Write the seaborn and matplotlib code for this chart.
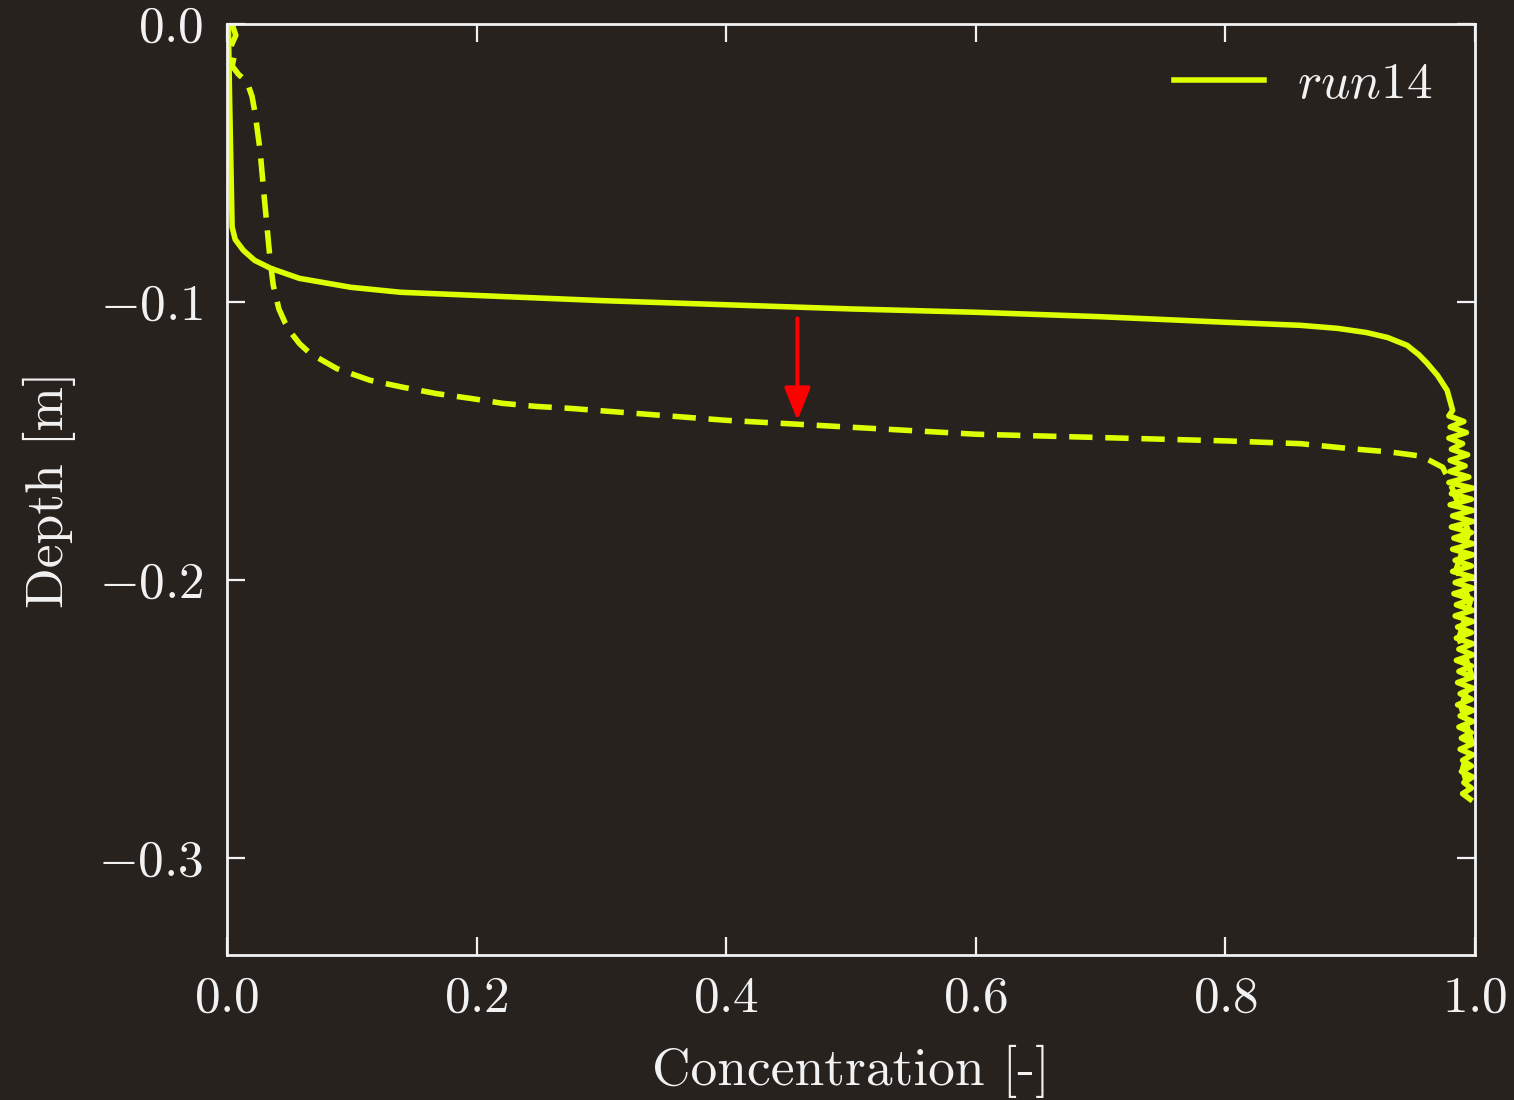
import matplotlib
matplotlib.use("Agg")
import matplotlib.pyplot as plt
import seaborn as sns
import pandas as pd

# ---- data ----
conc_solid = [0.001, 0.002, 0.003, 0.004, 0.0065, 0.013, 0.022, 0.035, 0.058, 0.099,
              0.139, 0.219, 0.30, 0.40, 0.50, 0.60, 0.70, 0.80, 0.86, 0.89,
              0.913, 0.930, 0.9455, 0.955, 0.9615, 0.970, 0.9776, 0.982,
              0.979, 0.991, 0.980, 0.993, 0.979, 0.990, 0.981, 0.994, 0.980, 0.992,
              0.980, 0.995, 0.979, 0.998, 0.981, 0.997, 0.980, 0.998, 0.982, 0.998,
              0.981, 0.997, 0.983, 0.998, 0.982, 0.998, 0.984, 0.997, 0.982, 0.998,
              0.984, 0.998, 0.983, 0.997, 0.985, 0.998, 0.984, 0.998, 0.986, 0.997,
              0.985, 0.998, 0.987, 0.998, 0.985, 0.997, 0.987, 0.998, 0.986, 0.998,
              0.988, 0.997, 0.986, 0.998, 0.988, 0.998, 0.987, 0.997, 0.989, 0.998,
              0.988, 0.998, 0.990, 0.997, 0.989, 0.998, 0.991, 0.997, 0.990, 0.996]
depth_solid = [0.0, -0.027, -0.05, -0.073, -0.0775, -0.0814, -0.085, -0.0879, -0.0915, -0.0947,
               -0.0965, -0.098, -0.0995, -0.101, -0.1025, -0.1037, -0.1053, -0.1073, -0.1084, -0.1095,
               -0.111, -0.1128, -0.1156, -0.119, -0.122, -0.1265, -0.1318, -0.139,
               -0.141, -0.143, -0.145, -0.147, -0.149, -0.151, -0.153, -0.155, -0.157, -0.159,
               -0.161, -0.163, -0.165, -0.167, -0.169, -0.171, -0.173, -0.175, -0.177, -0.179,
               -0.181, -0.183, -0.185, -0.187, -0.189, -0.191, -0.193, -0.195, -0.197, -0.199,
               -0.201, -0.203, -0.205, -0.207, -0.209, -0.211, -0.213, -0.215, -0.217, -0.219,
               -0.221, -0.223, -0.225, -0.227, -0.229, -0.231, -0.233, -0.235, -0.237, -0.239,
               -0.241, -0.243, -0.245, -0.247, -0.249, -0.251, -0.253, -0.255, -0.257, -0.259,
               -0.261, -0.263, -0.265, -0.267, -0.269, -0.271, -0.273, -0.275, -0.277, -0.279]

conc_dash = [0.004, 0.007, 0.003, 0.006, 0.004, 0.009, 0.016, 0.020, 0.0224, 0.0264,
             0.030, 0.0345, 0.037, 0.0415, 0.0465, 0.052, 0.058, 0.0665, 0.088, 0.1146,
             0.141, 0.168, 0.195, 0.221, 0.248, 0.275, 0.40, 0.457, 0.60, 0.80,
             0.86, 0.90, 0.932, 0.957, 0.974, 0.979, 0.986, 0.995, 0.985, 0.996,
             0.987, 0.997, 0.989, 0.997, 0.990, 0.995]
depth_dash = [0.0, -0.004, -0.008, -0.011, -0.015, -0.018, -0.0208, -0.026, -0.032, -0.0454,
              -0.0634, -0.085, -0.094, -0.1025, -0.1075, -0.1115, -0.1150, -0.1185, -0.124, -0.1282,
              -0.1307, -0.133, -0.1347, -0.1365, -0.1376, -0.1383, -0.1426, -0.1440, -0.1476, -0.150,
              -0.151, -0.1528, -0.154, -0.1555, -0.1595, -0.164, -0.172, -0.183, -0.196, -0.208,
              -0.221, -0.234, -0.246, -0.258, -0.268, -0.276]

arrow_x = 0.457
arrow_y_start = -0.1059
arrow_y_end = -0.1426

x_ticks = [0.0, 0.2, 0.4, 0.6, 0.8, 1.0]
y_ticks = [-0.3, -0.2, -0.1, 0.0]
legend_label = "$run14$"
xlabel = "Concentration [-]"
ylabel = "Depth [m]"

# ---- style ----
BG = "#28221f"
LINE = "#ddff00"
FG = "#f2f2f2"

plt.rcParams["mathtext.fontset"] = "cm"
plt.rcParams["axes.formatter.use_mathtext"] = True
plt.rcParams["font.family"] = ["cmr10", "DejaVu Serif"]
plt.rcParams["axes.unicode_minus"] = True

fig = plt.figure(figsize=(15.14, 11), dpi=100, facecolor=BG)
ax = fig.add_axes([0.15, 0.132, 0.8243, 0.846])
ax.set_facecolor(BG)

df_solid = pd.DataFrame({"conc": conc_solid, "depth": depth_solid})
df_dash = pd.DataFrame({"conc": conc_dash, "depth": depth_dash})

sns.lineplot(data=df_solid, x="conc", y="depth", sort=False, estimator=None,
             color=LINE, lw=4.0, ax=ax, solid_joinstyle="round")
sns.lineplot(data=df_dash, x="conc", y="depth", sort=False, estimator=None,
             color=LINE, lw=4.0, ax=ax, linestyle=(0, (4.2, 2.3)))

solid_line = ax.get_lines()[0]

ax.annotate("", xy=(arrow_x, arrow_y_end), xytext=(arrow_x, arrow_y_start),
            arrowprops=dict(arrowstyle="-|>,head_width=0.4,head_length=1.0",
                            color="red", lw=2.8, mutation_scale=20,
                            shrinkA=0, shrinkB=0))

ax.set_xlim(0, 1.0)
ax.set_ylim(-0.335, 0.0)
ax.set_xticks(x_ticks)
ax.set_yticks(y_ticks)

for s in ax.spines.values():
    s.set_color(FG)
    s.set_linewidth(2.0)

ax.tick_params(axis="both", which="major", direction="in", length=13, width=1.6,
               color=FG, labelcolor=FG, labelsize=37, top=True, right=True)
ax.tick_params(axis="x", pad=15)
ax.tick_params(axis="y", pad=17)

ax.set_xlabel(xlabel, fontsize=38.5, color=FG, labelpad=17)
ax.set_ylabel(ylabel, fontsize=38.5, color=FG, labelpad=16)

leg = ax.legend(handles=[solid_line], labels=[legend_label], loc="upper right",
                frameon=False, fontsize=37, handlelength=1.75, handletextpad=0.65,
                bbox_to_anchor=(1.003, 1.009))
for t in leg.get_texts():
    t.set_color(FG)

fig.savefig("out.png", dpi=100, facecolor=BG)
